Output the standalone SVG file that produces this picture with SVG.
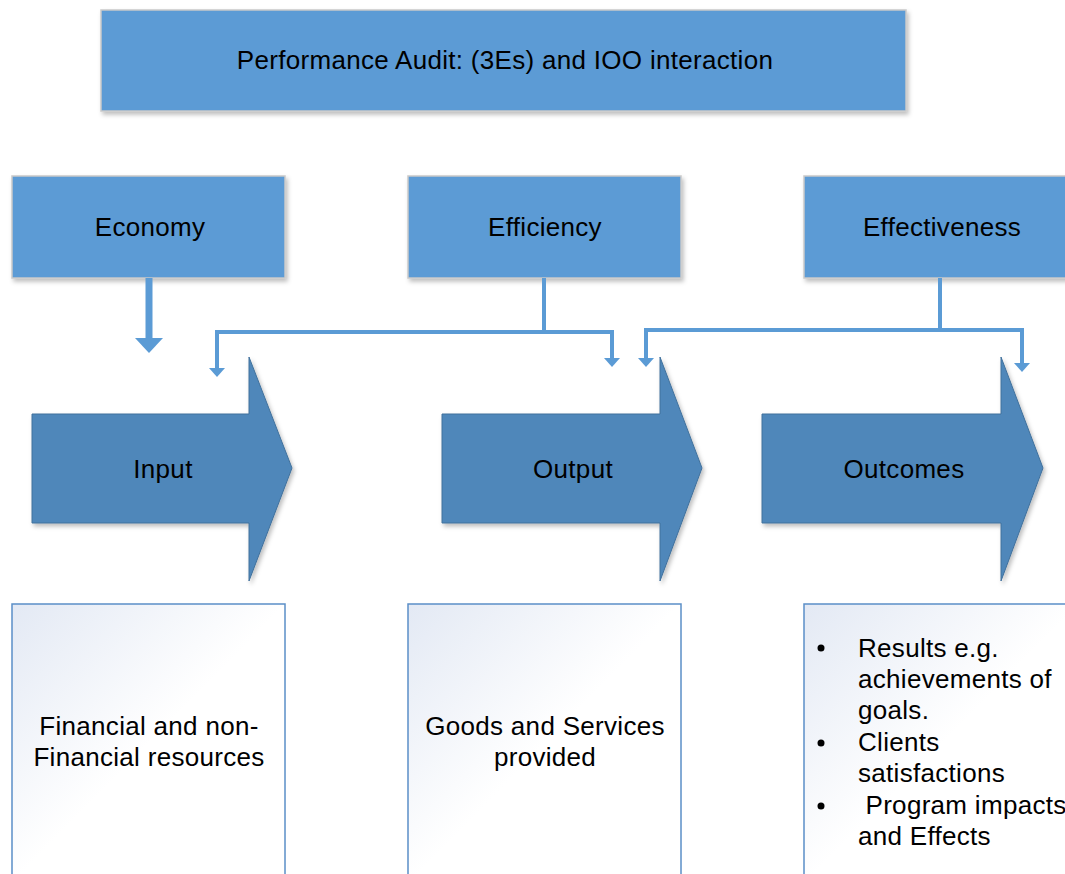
<svg xmlns="http://www.w3.org/2000/svg" width="1065" height="874" viewBox="0 0 1065 874">
<defs>
<filter id="sh" x="-10%" y="-10%" width="130%" height="140%">
<feDropShadow dx="2" dy="3" stdDeviation="2" flood-color="#000" flood-opacity="0.25"/>
</filter>
<linearGradient id="bg" x1="0" y1="0" x2="1" y2="1">
<stop offset="0" stop-color="#E3E9F4"/>
<stop offset="0.5" stop-color="#FFFFFF"/>
<stop offset="1" stop-color="#FFFFFF"/>
</linearGradient>
<style>
.hdr{fill:#5B9BD5;stroke:#C9C9C9;stroke-width:1.5}
.arr{fill:#4F87BA;stroke:#41719C;stroke-width:1}
.box{fill:url(#bg);stroke:#5B8FC7;stroke-width:1.5}
.t{font-family:"Liberation Sans",Arial,sans-serif;font-size:26px;letter-spacing:0.3px;fill:#000}
.c{fill:none;stroke:#5B9BD5;stroke-width:4}
.hd{fill:#5B9BD5}
</style>
</defs>
<g id="title" filter="url(#sh)">
<rect class="hdr" x="101" y="10" width="805" height="101"/>
</g>
<text class="t" x="505" y="69" text-anchor="middle">Performance Audit: (3Es) and IOO interaction</text>

<g id="economy">
<rect class="hdr" x="12" y="176" width="273" height="102" filter="url(#sh)"/>
<text class="t" x="150" y="236" text-anchor="middle">Economy</text>
</g>
<g id="efficiency">
<rect class="hdr" x="408" y="176" width="273" height="102" filter="url(#sh)"/>
<text class="t" x="545" y="236" text-anchor="middle">Efficiency</text>
</g>
<g id="effectiveness">
<rect class="hdr" x="804" y="176" width="275" height="102" filter="url(#sh)"/>
<text class="t" x="942" y="236" text-anchor="middle">Effectiveness</text>
</g>

<g id="connectors">
<path d="M149,278 V339" fill="none" stroke="#5B9BD5" stroke-width="7"/>
<path class="hd" d="M135,338 H163 L149,353 Z"/>
<path class="c" d="M544,278 V332 M217,332 H612 M217,330 V370 M612,330 V360"/>
<path class="hd" d="M209,368 H225 L217,377 Z"/>
<path class="hd" d="M604,358 H620 L612,367 Z"/>
<path class="c" d="M940,278 V330 M646,330 H1022 M646,328 V360 M1022,328 V365"/>
<path class="hd" d="M638,358 H654 L646,367 Z"/>
<path class="hd" d="M1014,363 H1030 L1022,372 Z"/>
</g>

<g id="input">
<path class="arr" filter="url(#sh)" d="M32,414 H249 V357 L292,468 L249,581 V523 H32 Z"/>
<text class="t" x="163" y="478" text-anchor="middle">Input</text>
</g>
<g id="output">
<path class="arr" filter="url(#sh)" d="M442,414 H660 V357 L702,468 L660,581 V523 H442 Z"/>
<text class="t" x="573" y="478" text-anchor="middle">Output</text>
</g>
<g id="outcomes">
<path class="arr" filter="url(#sh)" d="M762,414 H1001 V357 L1043,468 L1001,581 V523 H762 Z"/>
<text class="t" x="904" y="478" text-anchor="middle">Outcomes</text>
</g>

<g id="input-detail">
<rect class="box" x="12" y="604" width="273" height="280"/>
<text class="t" x="149" y="735" text-anchor="middle">Financial and non-</text>
<text class="t" x="149" y="766" text-anchor="middle">Financial resources</text>
</g>
<g id="output-detail">
<rect class="box" x="408" y="604" width="273" height="280"/>
<text class="t" x="545" y="735" text-anchor="middle">Goods and Services</text>
<text class="t" x="545" y="766" text-anchor="middle">provided</text>
</g>
<g id="outcomes-detail">
<rect class="box" x="804" y="604" width="275" height="280"/>
<circle cx="821" cy="648" r="3.5" fill="#000"/>
<circle cx="821" cy="743" r="3.5" fill="#000"/>
<circle cx="821" cy="806" r="3.5" fill="#000"/>
<text class="t" x="858" y="657">Results e.g.</text>
<text class="t" x="858" y="688">achievements of</text>
<text class="t" x="858" y="719">goals.</text>
<text class="t" x="858" y="751">Clients</text>
<text class="t" x="858" y="782">satisfactions</text>
<text class="t" x="858" y="814" xml:space="preserve"> Program impacts</text>
<text class="t" x="858" y="845">and Effects</text>
</g>
</svg>
